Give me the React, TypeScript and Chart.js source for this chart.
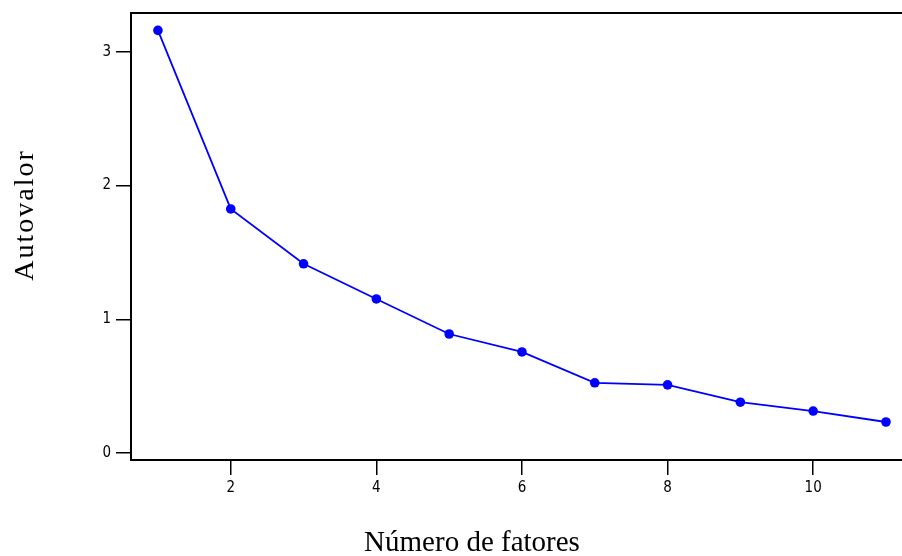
import React, { useEffect, useRef } from "react";
import { Chart, registerables } from "chart.js";

Chart.register(...registerables);

const factors = [1, 2, 3, 4, 5, 6, 7, 8, 9, 10, 11];
const eigenvalues = [3.16, 1.825, 1.415, 1.152, 0.89, 0.756, 0.525, 0.51, 0.38, 0.314, 0.232];
const xTicks = [2, 4, 6, 8, 10];
const yTicks = [0, 1, 2, 3];
const xTitle = "Número de fatores";
const yTitle = "Autovalor";

const framePlugin = {
  id: "frameAndTitles",
  afterDraw(chart: any) {
    const { ctx, chartArea } = chart;
    ctx.save();
    ctx.strokeStyle = "#000";
    ctx.lineWidth = 2;
    ctx.beginPath();
    ctx.moveTo(chartArea.left - 1, chartArea.top);
    ctx.lineTo(chartArea.right, chartArea.top);
    ctx.stroke();

    ctx.fillStyle = "#000";
    ctx.font = "29px 'Liberation Serif', 'Times New Roman', serif";
    ctx.textAlign = "center";
    ctx.textBaseline = "middle";
    ctx.fillText(xTitle, 472, 543);

    ctx.translate(26, 215);
    ctx.rotate(-Math.PI / 2);
    ctx.font = "28px 'Liberation Serif', 'Times New Roman', serif";
    try {
      (ctx as any).letterSpacing = "2px";
    } catch (e) {}
    ctx.fillText(yTitle, 0, 0);
    ctx.restore();
  },
};

export default function App() {
  const ref = useRef<HTMLCanvasElement>(null);
  useEffect(() => {
    if (!ref.current) return;
    const tickFont = {
      family: "'Liberation Sans Narrow', 'DejaVu Sans Condensed', 'Liberation Sans', Arial, sans-serif",
      size: 15,
    };
    const chart = new Chart(ref.current, {
      type: "line",
      data: {
        datasets: [
          {
            data: factors.map((f, i) => ({ x: f, y: eigenvalues[i] })),
            borderColor: "#0000ff",
            backgroundColor: "#0000ff",
            borderWidth: 1.8,
            pointRadius: 4.8,
            pointBorderWidth: 0,
            pointBackgroundColor: "#0000ff",
            tension: 0,
          },
        ],
      },
      options: {
        animation: false,
        responsive: false,
        maintainAspectRatio: false,
        layout: { autoPadding: false, padding: { top: 13, right: 0, left: 0, bottom: 0 } },
        plugins: { legend: { display: false }, tooltip: { enabled: false } },
        scales: {
          x: {
            type: "linear",
            min: 0.63,
            max: 11.22,
            afterBuildTicks: (s: any) => {
              s.ticks = xTicks.map((v) => ({ value: v }));
            },
            afterFit: (s: any) => {
              s.height = 96;
              s.paddingLeft = 0;
              s.paddingRight = 0;
            },
            grid: { drawOnChartArea: false, drawTicks: true, tickLength: 15, color: "#000", lineWidth: 1.5 },
            border: { display: true, color: "#000", width: 2 },
            ticks: { color: "#000", font: tickFont, padding: 4, maxRotation: 0, autoSkip: false },
          },
          y: {
            type: "linear",
            min: -0.052,
            max: 3.29,
            afterBuildTicks: (s: any) => {
              s.ticks = yTicks.map((v) => ({ value: v }));
            },
            afterFit: (s: any) => {
              s.width = 131;
              s.paddingTop = 0;
              s.paddingBottom = 0;
            },
            grid: { drawOnChartArea: false, drawTicks: true, tickLength: 15, color: "#000", lineWidth: 1.5 },
            border: { display: true, color: "#000", width: 2 },
            ticks: { color: "#000", font: tickFont, padding: 5, autoSkip: false },
          },
        },
      },
      plugins: [framePlugin],
    } as any);
    return () => chart.destroy();
  }, []);
  return (
    <div style={{ position: "fixed", left: 0, top: 0, width: 902, height: 556, background: "#fff" }}>
      <canvas ref={ref} width={902} height={556} style={{ width: 902, height: 556 }} />
    </div>
  );
}
